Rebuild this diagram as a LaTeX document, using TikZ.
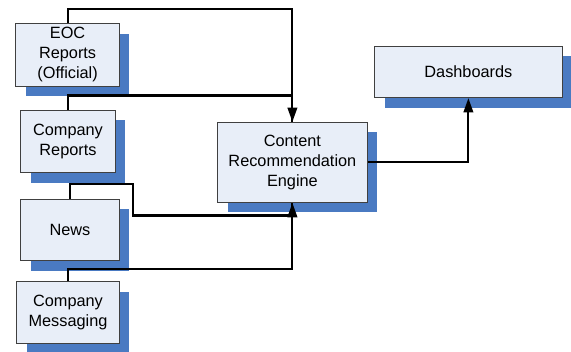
\documentclass[tikz,border=0pt]{standalone}
\usepackage{fontspec}
\setmainfont{Liberation Sans}
\usetikzlibrary{arrows.meta,shadows}

\definecolor{boxfill}{HTML}{E8EEF8}
\definecolor{boxshadow}{HTML}{4A7AC2}

\begin{document}
\begin{tikzpicture}[
    block/.style={draw=black!75, line width=0.7pt, fill=boxfill, align=center,
      inner sep=0pt, font=\fontsize{11.6}{14.2}\selectfont,
      general shadow={fill=boxshadow, shadow xshift=0.25cm, shadow yshift=-0.25cm}},
    link/.style={line width=1.5pt, line join=miter},
    tip/.style={-{Triangle[length=3.6mm,width=2.4mm]}}
  ]
    \useasboundingbox (0,0) rectangle (14.275,-8.8);

    % sources
    \node[block, minimum width=2.59cm, minimum height=1.56cm] (eoc) at (1.69,-1.37) {EOC\\Reports\\(Official)};
    \node[block, minimum width=2.37cm, minimum height=1.56cm] (crep) at (1.70,-3.54) {Company\\Reports};
    \node[block, minimum width=2.47cm, minimum height=1.54cm] (news) at (1.75,-5.75) {News};
    \node[block, minimum width=2.56cm, minimum height=1.54cm] (cmsg) at (1.70,-7.81) {Company\\Messaging};

    % engine and output
    \node[block, minimum width=3.74cm, minimum height=2.0cm] (cre) at (7.31,-4.06) {Content\\Recommendation\\Engine};
    \node[block, minimum width=4.68cm, minimum height=1.28cm] (dash) at (11.71,-1.80) {Dashboards};

    % feeds into the engine
    \draw[link,tip] (eoc.north) -- ++(0,0.36) -| (cre.north);
    \draw[link] (crep.north) -- ++(0,0.36) -| (cre.north);
    \draw[link,tip] (news.north) -- ++(0,0.36) -| ++(1.58,-0.78) -| (cre.south);
    \draw[link] (cmsg.north) -- ++(0,0.30) -| (cre.south);

    \draw[link,tip] (cre.east) -| (dash.south);
  \end{tikzpicture}
\end{document}
